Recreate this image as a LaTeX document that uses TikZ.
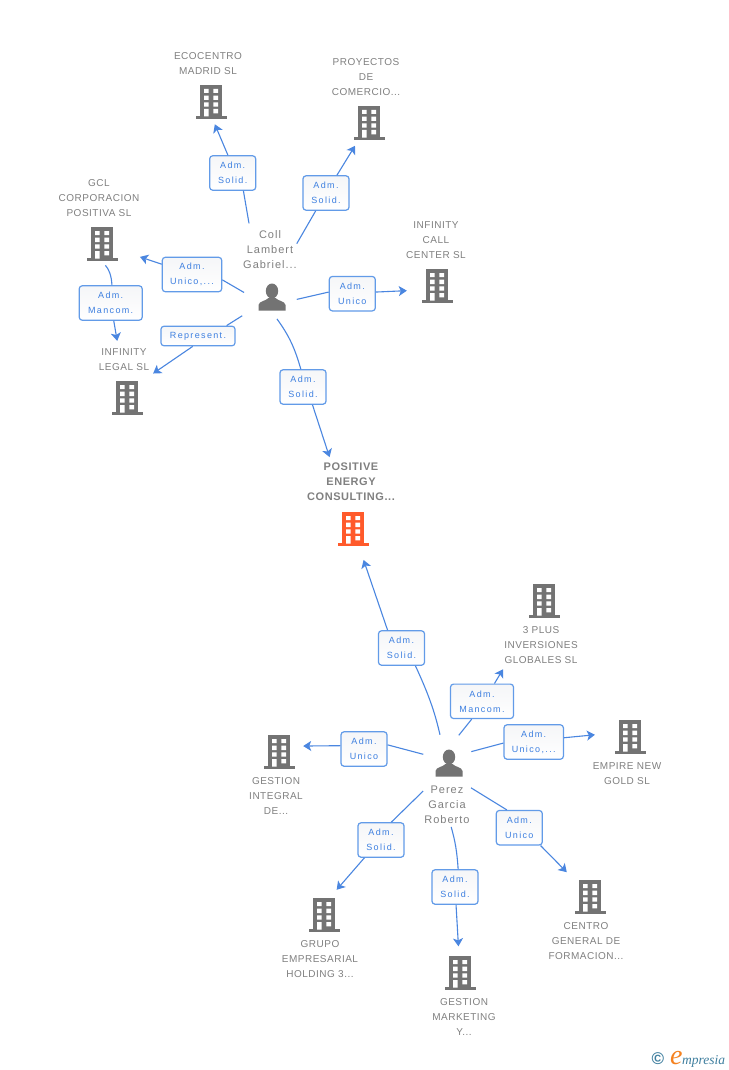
\documentclass[tikz,border=0pt]{standalone}
\usepackage{fontspec}
\setmainfont{Liberation Sans}
\newfontfamily\labfont[LetterSpace=5]{Liberation Sans}
\newfontfamily\perfont[LetterSpace=9]{Liberation Sans}
\newfontfamily\boxfont[LetterSpace=15]{Liberation Sans}
\newfontfamily\wmfont{Liberation Serif}
\usetikzlibrary{arrows.meta}
\definecolor{ink}{HTML}{808080}
\definecolor{iconc}{HTML}{737373}
\definecolor{hot}{HTML}{FF5A2B}
\definecolor{wirec}{HTML}{4A86E0}
\definecolor{edgec}{HTML}{629BE8}
\definecolor{lbl}{HTML}{3D7FE0}
\definecolor{tealc}{HTML}{3F7F9F}
\definecolor{orng}{HTML}{F58220}
\definecolor{boxtop}{HTML}{F5F6F8}
\tikzset{
  bldg/.style={minimum width=32pt,minimum height=35pt,inner sep=0pt,path picture={
    \begin{scope}[shift={(path picture bounding box.center)}]
      \fill[#1] (-11.3,-17) rectangle (11.3,15);
      \fill[#1] (-15.5,14.3) rectangle (15.5,17);
      \fill[white] (-7,-13) rectangle (-2.3,-9) (2.3,-13) rectangle (7,-9)
        (-7,-6.3) rectangle (-2.3,-2) (2.3,-6.3) rectangle (7,-2)
        (-7,0.3) rectangle (-2.3,4.7) (2.3,0.3) rectangle (7,4.7)
        (-7,7) rectangle (-2.3,14.5) (2.3,7) rectangle (7,11.3);
    \end{scope}}},
  human/.style={circle,minimum size=40pt,inner sep=0pt,path picture={
    \begin{scope}[shift={(path picture bounding box.center)}]
      \fill[iconc] (0,-6) ellipse [x radius=6.2,y radius=7.5];
      \fill[iconc] (-13.5,13.5) -- (-13.5,8) .. controls (-13,4) and (-6,4) .. (-3.5,1)
        -- (3.5,1) .. controls (6,4) and (13,4) .. (13.5,8) -- (13.5,13.5) -- cycle;
    \end{scope}}},
  ttl/.style={inner sep=0pt,align=center,text=ink,font=\labfont\fontsize{10}{15}\selectfont},
  perttl/.style={ttl,font=\perfont\fontsize{11}{15}\selectfont},
  rolebox/.style={draw=edgec,line width=1.2pt,rounded corners=3pt,top color=boxtop,bottom color=white,inner sep=0pt,
    minimum height=34.4pt,align=center,text=lbl,font=\boxfont\fontsize{9}{15}\selectfont},
  link/.style={draw=wirec,line width=1.1pt},
  arrowlink/.style={link,-{Stealth[length=8pt,width=10pt,inset=2pt]}}
}
\begin{document}
\begin{tikzpicture}[x=1pt,y=-1pt]
\useasboundingbox[fill=white] (0,0) rectangle (728,1070);
% companies
\node[bldg=iconc] (eco) at (211,102) {};
\node[bldg=iconc] (pro) at (369,123) {};
\node[bldg=iconc] (gcl) at (102,244) {};
\node[bldg=iconc] (cal) at (437,286) {};
\node[bldg=iconc] (leg) at (127,398) {};
\node[bldg=hot]  (pos) at (353,529) {};
\node[bldg=iconc] (plu) at (544,601) {};
\node[bldg=iconc] (emp) at (630,737) {};
\node[bldg=iconc] (inte) at (279,752) {};
\node[bldg=iconc] (gru) at (324,915) {};
\node[bldg=iconc] (mkt) at (460,973) {};
\node[bldg=iconc] (cen) at (590,897) {};
% people
\node[human] (coll) at (272,297) {};
\node[human] (perez) at (449,763) {};
% names
\node[ttl] (ecoT) at (208,63.5) {ECOCENTRO\\MADRID SL};
\node[ttl] (proT) at (366,77) {PROYECTOS\\DE\\COMERCIO...};
\node[ttl] (gclT) at (99,198) {GCL\\CORPORACION\\POSITIVA SL};
\node[ttl] (calT) at (436,240) {INFINITY\\CALL\\CENTER SL};
\node[ttl] (legT) at (124,359.5) {INFINITY\\LEGAL SL};
\node[ttl,font=\labfont\bfseries\fontsize{11}{15}\selectfont] (posT) at (351,482) {POSITIVE\\ENERGY\\CONSULTING...};
\node[ttl] (pluT) at (541,645) {3 PLUS\\INVERSIONES\\GLOBALES SL};
\node[ttl] (empT) at (627,773.5) {EMPIRE NEW\\GOLD SL};
\node[ttl] (intT) at (276,796) {GESTION\\INTEGRAL\\DE...};
\node[ttl] (gruT) at (320,959) {GRUPO\\EMPRESARIAL\\HOLDING 3...};
\node[ttl] (mktT) at (464,1017) {GESTION\\MARKETING\\Y...};
\node[ttl] (cenT) at (586,941) {CENTRO\\GENERAL DE\\FORMACION...};
\node[perttl] (colT) at (270,250) {Coll\\Lambert\\Gabriel...};
\node[perttl] (perT) at (447,805) {Perez\\Garcia\\Roberto};
% role boxes
\node[rolebox,minimum width=46pt] (b1) at (232.7,173) {Adm.\\Solid.};
\node[rolebox,minimum width=46pt] (b2) at (326,193) {Adm.\\Solid.};
\node[rolebox,minimum width=59.4pt] (b3) at (192,274.5) {Adm.\\Unico,...};
\node[rolebox,minimum width=63pt] (b4) at (110.7,303) {Adm.\\Mancom.};
\node[rolebox,minimum width=74pt,minimum height=19.6pt] (b5) at (198,336) {Represent.};
\node[rolebox,minimum width=46pt] (b6) at (352.3,293.7) {Adm.\\Unico};
\node[rolebox,minimum width=46pt] (b7) at (303,387) {Adm.\\Solid.};
\node[rolebox,minimum width=46pt] (b8) at (401.5,648) {Adm.\\Solid.};
\node[rolebox,minimum width=63pt] (b9) at (482,701.3) {Adm.\\Mancom.};
\node[rolebox,minimum width=59.4pt] (b10) at (533.7,742) {Adm.\\Unico,...};
\node[rolebox,minimum width=46pt] (b11) at (519.3,827.7) {Adm.\\Unico};
\node[rolebox,minimum width=46pt] (b12) at (364,749) {Adm.\\Unico};
\node[rolebox,minimum width=46pt] (b13) at (381,840) {Adm.\\Solid.};
\node[rolebox,minimum width=46pt] (b14) at (455,887) {Adm.\\Solid.};
% connectors, upper person
\draw[link,shorten <=59pt] (coll.130) -- (b1.-59);
\draw[arrowlink,shorten >=5pt] (b1.105) -- (eco.-84);
\draw[link,shorten <=39pt] (coll.75) -- (b2.-120);
\draw[arrowlink,shorten >=6pt] (b2) -- (pro);
\draw[link,shorten <=9pt] (coll.180) -- (b3.-10);
\draw[arrowlink,shorten >=23pt] (b3) -- (gcl);
\draw[link,shorten <=5pt] (coll.-10) -- (b6.176);
\draw[arrowlink,shorten >=14pt] (b6.4) -- (cal.194);
\draw[link,shorten <=15pt] (coll) -- (b5.20);
\draw[arrowlink,shorten >=12pt] (b5.-117) -- (leg.north east);
\draw[link,shorten <=2.5pt] (coll.-80) to[bend left=10] (b7.97);
\draw[arrowlink,shorten >=57pt] (b7.-62) -- (pos);
\draw[link,shorten <=5pt] (gcl.south) to[bend left=20] (b4.86);
\draw[arrowlink,shorten >=40pt] (b4) -- (leg);
% connectors, lower person
\draw[link,shorten <=9.5pt] (perez.110) to[bend right=6] (b8.-52);
\draw[arrowlink,shorten >=14pt] (b8.128) -- (pos);
\draw[link,shorten <=10pt] (perez.80) -- (b9.-120);
\draw[arrowlink,shorten >=59pt] (b9.55) -- (plu);
\draw[link,shorten <=5pt] (perez.30) -- (b10.182);
\draw[arrowlink,shorten >=19pt] (b10.8) -- (emp.166);
\draw[link,shorten <=14pt] (perez.-60) -- (b11.125);
\draw[arrowlink,shorten >=10pt] (b11.-40) -- (cen.north west);
\draw[link,shorten <=7pt] (perez.160) -- (b12.10);
\draw[arrowlink,shorten >=8pt] (b12.172) -- (inte.20);
\draw[link,shorten <=18pt] (perez.-130) -- (b13.60);
\draw[arrowlink,shorten >=10pt] (b13.-133) -- (gru.71);
\draw[link,shorten <=3pt] (perT.-80) to[bend left=6] (b14.80);
\draw[arrowlink,shorten >=9pt] (b14) -- (mkt);
% watermark
\node[inner sep=0pt,text=tealc,font=\bfseries\fontsize{17}{17}\selectfont] (wmc) at (658,1059) {©};
\node[inner sep=0pt,anchor=base west,text=orng,font=\wmfont\itshape\fontsize{28}{28}\selectfont] (wme) at (670,1064) {e};
\node[inner sep=0pt,anchor=base west,text=tealc,font=\wmfont\itshape\fontsize{13.5}{13.5}\selectfont] (wmt) at (682,1064) {mpresia};
\end{tikzpicture}
\end{document}
